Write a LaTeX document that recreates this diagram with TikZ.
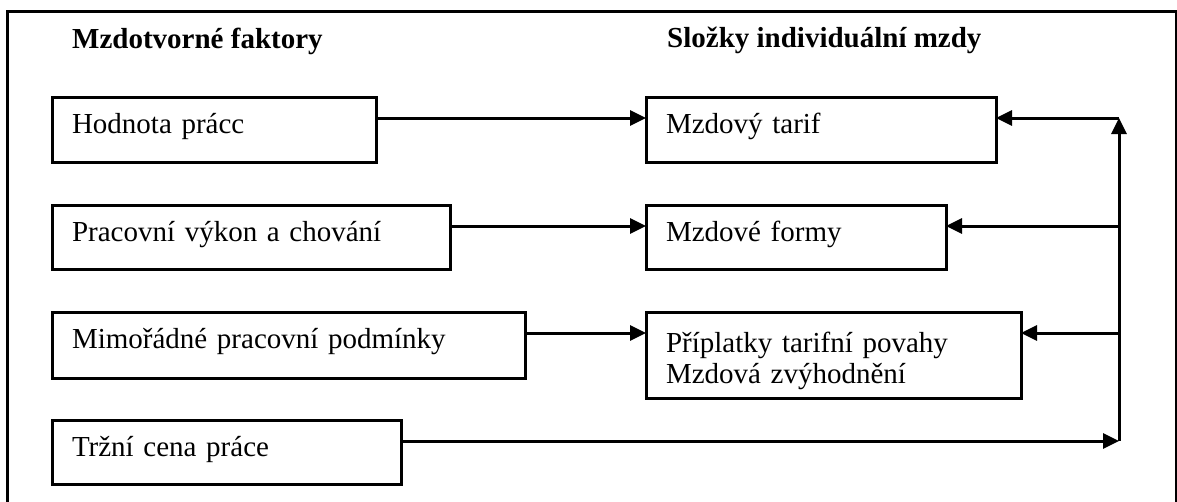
\documentclass[tikz,border=0pt]{standalone}
\usepackage{fontspec}
\setmainfont{Liberation Serif}
\usetikzlibrary{arrows.meta,positioning}

\tikzset{
  box/.style={draw, line width=3pt, anchor=north west, inner xsep=20pt, inner ysep=0pt, outer sep=0pt, align=left},
  arr/.style={-{Triangle[length=16pt,width=15pt]}, line width=3pt},
  title/.style={font=\fontsize{29}{31}\selectfont\bfseries, anchor=base west, inner sep=0pt}
}

\begin{document}
\begin{tikzpicture}[x=1pt, y=-1pt, font=\fontsize{29}{31}\selectfont]
    \useasboundingbox (0,0) rectangle (1177,501);
    % outer frame
    \draw[line width=3pt] (7.5,530) -- (7.5,11.5) -- (1176.5,11.5) -- (1176.5,530);

    \node[title] (tleft) at (72,48) {Mzdotvorné faktory};
    \node[title] (tright) at (667,47) {Složky individuální mzdy};

    % factors
    \node[box, text width=284pt, text height=36pt, text depth=29pt] (hodnota) at (52,97) {Hodnota prácc};
    \node[box, text width=358pt, text height=36pt, text depth=28pt, below=43pt of hodnota.south west, anchor=north west] (vykon) {Pracovní výkon a chování};
    \node[box, text width=433pt, text height=36pt, text depth=30pt, below=43pt of vykon.south west, anchor=north west] (mimo) {Mimořádné pracovní podmínky};
    \node[box, text width=309pt, text height=36pt, text depth=28pt, below=42pt of mimo.south west, anchor=north west] (trzni) {Tržní cena práce};

    % wage components
    \node[box, text width=310pt, text height=36pt, text depth=29pt, right=594pt of hodnota.north west, anchor=north west] (tarif) {Mzdový tarif};
    \node[box, text width=260pt, text height=36pt, text depth=28pt, below=43pt of tarif.south west, anchor=north west] (formy) {Mzdové formy};
    \node[box, text width=335pt, text height=40pt, text depth=46pt, below=43pt of formy.south west, anchor=north west] (priplatky) {Příplatky tarifní povahy\\Mzdová zvýhodnění};

    \draw[arr] ([yshift=-21pt]hodnota.north east) -- ([yshift=-21pt]tarif.north west);
    \draw[arr] ([yshift=-21pt]vykon.north east) -- ([yshift=-21pt]formy.north west);
    \draw[arr] ([yshift=-21pt]mimo.north east) -- ([yshift=-21pt]priplatky.north west);

    % market price feeds back into all components
    \coordinate (dole) at (1119,441);
    \coordinate (nahore) at (1119,118);
    \coordinate (fin) at ([yshift=-21pt]formy.north east);
    \coordinate (pin) at ([yshift=-21pt]priplatky.north east);
    \draw[arr] ([yshift=-21pt]trzni.north east) -- (dole);
    \draw[arr] (dole) -- (nahore);
    \draw[arr] (nahore) -- ([yshift=-21pt]tarif.north east);
    \draw[arr] (nahore |- fin) -- (fin);
    \draw[arr] (nahore |- pin) -- (pin);
\end{tikzpicture}
\end{document}
